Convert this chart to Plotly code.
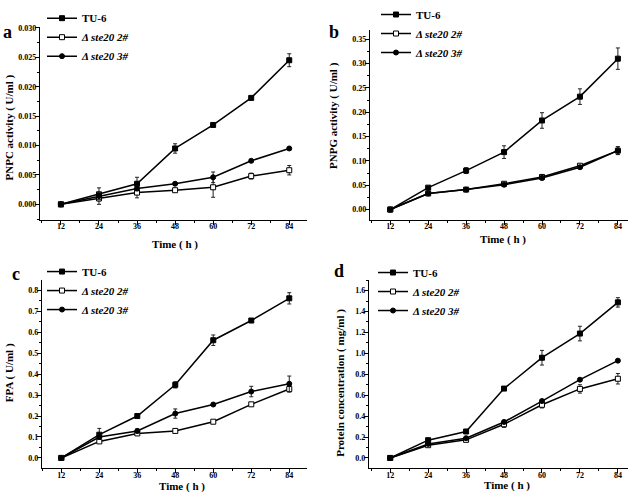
import plotly.graph_objects as go

# time points (h)
time_h = [12, 24, 36, 48, 60, 72, 84]

# a: PNPC activity (U/ml)
pnpc_tu6 = [0, 0.0017, 0.0035, 0.0095, 0.0135, 0.0181, 0.0245]
pnpc_tu6_err = [0, 0.0011, 0.0011, 0.0008, 0.0003, 0.0002, 0.0011]
pnpc_d2 = [0, 0.0010, 0.0020, 0.0024, 0.0029, 0.0048, 0.0058]
pnpc_d2_err = [0, 0.0010, 0.0009, 0.0001, 0.0017, 0.0005, 0.0008]
pnpc_d3 = [0, 0.0014, 0.0027, 0.0035, 0.0046, 0.0074, 0.0095]
pnpc_d3_err = [0, 0.0006, 0.0004, 0.0001, 0.0009, 0.0002, 0.0001]

# b: PNPG activity (U/ml)
pnpg_tu6 = [0, 0.045, 0.080, 0.118, 0.183, 0.232, 0.310]
pnpg_tu6_err = [0, 0.002, 0.006, 0.013, 0.016, 0.016, 0.022]
pnpg_d2 = [0, 0.033, 0.041, 0.053, 0.067, 0.090, 0.121]
pnpg_d2_err = [0, 0.002, 0.003, 0.004, 0.004, 0.003, 0.008]
pnpg_d3 = [0, 0.033, 0.041, 0.051, 0.065, 0.087, 0.121]
pnpg_d3_err = [0, 0.002, 0.003, 0.003, 0.004, 0.003, 0.008]

# c: FPA (U/ml)
fpa_tu6 = [0, 0.111, 0.200, 0.349, 0.562, 0.656, 0.762]
fpa_tu6_err = [0, 0.030, 0.004, 0.015, 0.025, 0.005, 0.027]
fpa_d2 = [0, 0.079, 0.117, 0.129, 0.173, 0.256, 0.329]
fpa_d2_err = [0, 0.005, 0.006, 0.004, 0.005, 0.006, 0.015]
fpa_d3 = [0, 0.100, 0.129, 0.212, 0.255, 0.317, 0.354]
fpa_d3_err = [0, 0.012, 0.010, 0.022, 0.004, 0.025, 0.037]

# d: protein concentration (mg/ml)
prot_tu6 = [0, 0.170, 0.253, 0.663, 0.958, 1.189, 1.487]
prot_tu6_err = [0, 0.010, 0.010, 0.010, 0.070, 0.070, 0.045]
prot_d2 = [0, 0.122, 0.173, 0.322, 0.508, 0.660, 0.757]
prot_d2_err = [0, 0.010, 0.015, 0.030, 0.030, 0.040, 0.050]
prot_d3 = [0, 0.134, 0.189, 0.344, 0.544, 0.748, 0.930]
prot_d3_err = [0, 0.010, 0.010, 0.015, 0.015, 0.010, 0.010]

names = ['<b>TU-6</b>', '<b><i>Δ ste20 2#</i></b>', '<b><i>Δ ste20 3#</i></b>']
symbols = ['square', 'square', 'circle']
fills = ['black', 'white', 'black']

panels = [
    ([pnpc_tu6, pnpc_d2, pnpc_d3], [pnpc_tu6_err, pnpc_d2_err, pnpc_d3_err]),
    ([pnpg_tu6, pnpg_d2, pnpg_d3], [pnpg_tu6_err, pnpg_d2_err, pnpg_d3_err]),
    ([fpa_tu6, fpa_d2, fpa_d3], [fpa_tu6_err, fpa_d2_err, fpa_d3_err]),
    ([prot_tu6, prot_d2, prot_d3], [prot_tu6_err, prot_d2_err, prot_d3_err]),
]

font_family = 'Liberation Serif'
fig = go.Figure()

for p, (series, errs) in enumerate(panels):
    suffix = '' if p == 0 else str(p + 1)
    for name, sym, fill, ys, es in zip(names, symbols, fills, series, errs):
        fig.add_trace(go.Scatter(
            x=time_h, y=ys, name=name, mode='lines+markers',
            xaxis='x' + suffix, yaxis='y' + suffix, legend='legend' + suffix,
            line=dict(color='black', width=1.5),
            marker=dict(symbol=sym, size=5, color=fill, line=dict(color='black', width=1)),
            error_y=dict(type='data', array=es, visible=True, color='#222', thickness=1, width=2),
        ))

# pixel layout of the four panels (left, right, top, bottom)
W, H = 638, 497
boxes = [(40, 307, 7, 208), (370, 628, 10, 208), (42, 307, 271, 467), (369, 628, 271, 467)]
xranges = [[5.4, 89.6], [5.6, 87.2], [5.9, 89.6], [5.3, 87.2]]
yranges = [[-0.0026, 0.0302], [-0.0207, 0.3697], [-0.049, 0.849], [-0.098, 1.70]]
ydticks = [0.005, 0.05, 0.1, 0.2]
yformats = ['.3f', '.2f', '.1f', '.1f']
ytitles = ['PNPC activity ( U/ml )', 'PNPG activity ( U/ml )', 'FPA ( U/ml )',
           'Protein concentration ( mg/ml )']
# axis title centres in pixels
xtitle_pos = [(175, 234), (503, 229), (182, 486), (507, 485)]
ytitle_pos = [(9, 112), (334, 100), (9, 368), (341, 378)]
legend_pos = [(42, -17), (376, -21), (42, 247), (373, 248)]
letters = ['a', 'b', 'c', 'd']
letter_pos = [(1, 0), (327, 0), (10, 252), (332, 249)]

tick_font = dict(family=font_family, size=8, color='black', weight='bold')
title_font = dict(family=font_family, size=11, color='black')
layout = dict(width=W, height=H, margin=dict(l=0, r=0, t=0, b=0),
              plot_bgcolor='white', paper_bgcolor='white', annotations=[])


def paper_ann(text, px, py, **kw):
    return dict(text=text, xref='paper', yref='paper', x=px / W, y=1 - py / H,
                showarrow=False, **kw)


for p, (l, r, t, b) in enumerate(boxes):
    suffix = '' if p == 0 else str(p + 1)
    common = dict(showline=True, linecolor='black', linewidth=1.2, ticks='outside',
                  ticklen=4, tickwidth=1, tickcolor='black', showgrid=False,
                  zeroline=False, tickfont=tick_font)
    layout['xaxis' + suffix] = dict(
        domain=[l / W, r / W], range=xranges[p], tickmode='linear', tick0=12, dtick=12,
        minor=dict(ticks='outside', ticklen=2, dtick=6, tick0=6, tickcolor='black'),
        ticklabelstandoff=-5, anchor='y' + suffix, **common)
    layout['yaxis' + suffix] = dict(
        domain=[1 - b / H, 1 - t / H], range=yranges[p], tickmode='linear', tick0=0,
        dtick=ydticks[p], tickformat=yformats[p],
        minor=dict(ticks='outside', ticklen=2, dtick=ydticks[p] / 2, tickcolor='black'),
        ticklabelstandoff=-3, anchor='x' + suffix, **common)
    lgx, lgy = legend_pos[p]
    layout['legend' + suffix] = dict(
        x=lgx / W, y=1 - lgy / H, xanchor='left', yanchor='top',
        bgcolor='rgba(0,0,0,0)', font=dict(family=font_family, size=11, color='black'),
        tracegroupgap=0)
    xt, yt = xtitle_pos[p]
    layout['annotations'].append(paper_ann('<b>Time ( h )</b>', xt, yt, xanchor='center',
                                           yanchor='middle', font=title_font))
    xt, yt = ytitle_pos[p]
    layout['annotations'].append(paper_ann('<b>' + ytitles[p] + '</b>', xt, yt, xanchor='center',
                                           yanchor='middle', textangle=-90, font=title_font))
    lx, ly = letter_pos[p]
    layout['annotations'].append(paper_ann('<b>' + letters[p] + '</b>', lx, ly, xanchor='left',
                                           yanchor='top',
                                           font=dict(family=font_family, size=18, color='black')))

fig.update_layout(**layout)
# drop the default page margin so the figure sits at the window's top-left corner
fig.write_html("out.html", config={'displayModeBar': False},
               post_script="document.body.style.margin='0';")
